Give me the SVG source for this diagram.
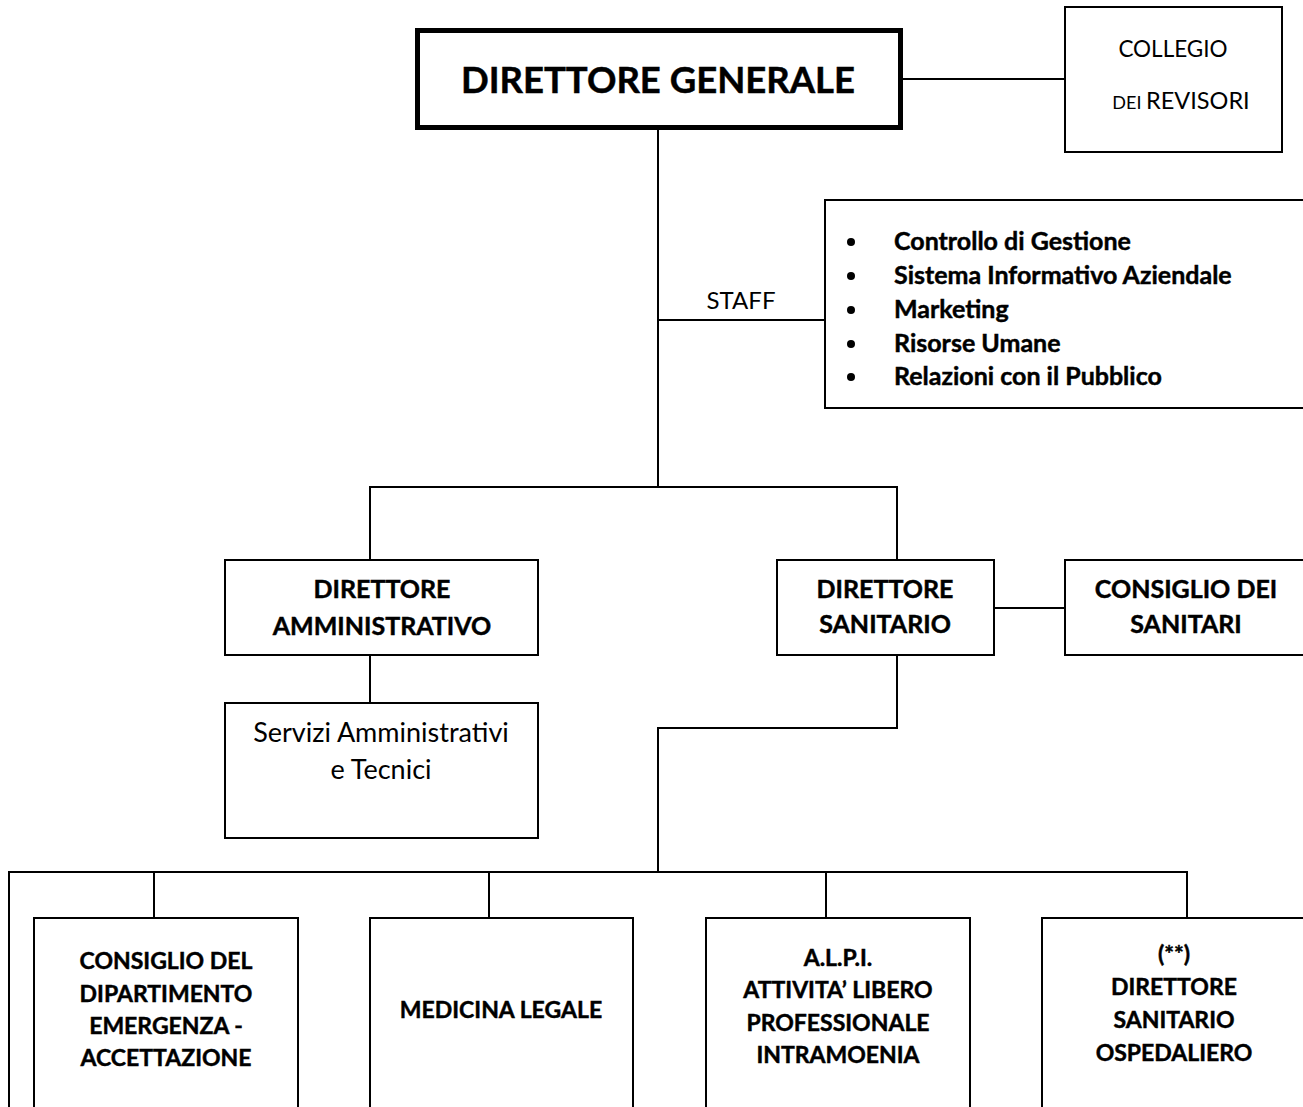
<svg xmlns="http://www.w3.org/2000/svg" width="1303" height="1107" viewBox="0 0 1303 1107">
<style>
text{font-family:Lato,"Open Sans","Liberation Sans",sans-serif;fill:#000;text-anchor:middle}
.b{font-weight:bold;stroke:#000;stroke-width:0.45px}
.box{fill:#fff;stroke:#000;stroke-width:2}
.thick{fill:#fff;stroke:#000;stroke-width:5}
.ln{fill:none;stroke:#000;stroke-width:2}
.s19{font-size:23px}
.s21{font-size:25px}
.st{font-size:25px;text-anchor:start}
</style>
<rect width="1303" height="1107" fill="#fff"/>
<g id="connectors">
<line class="ln" x1="901" y1="79" x2="1065" y2="79"/>
<line class="ln" x1="658" y1="128" x2="658" y2="487"/>
<line class="ln" x1="658" y1="320" x2="825" y2="320"/>
<polyline class="ln" points="370,560 370,487 897,487 897,560"/>
<line class="ln" x1="370" y1="655" x2="370" y2="703"/>
<line class="ln" x1="994" y1="608" x2="1065" y2="608"/>
<polyline class="ln" points="897,655 897,728 658,728 658,872"/>
<polyline class="ln" points="9,1107 9,872 1187,872 1187,918"/>
<line class="ln" x1="154" y1="872" x2="154" y2="918"/>
<line class="ln" x1="489" y1="872" x2="489" y2="918"/>
<line class="ln" x1="826" y1="872" x2="826" y2="918"/>
<text x="741" y="309" style="font-size:24px">STAFF</text>
</g>
<g id="direttore-generale">
<rect class="thick" x="417.5" y="30.5" width="483" height="97"/>
<text class="b" x="658" y="93" style="font-size:36.5px">DIRETTORE GENERALE</text>
</g>
<g id="collegio-revisori">
<rect class="box" x="1065" y="7" width="217" height="145"/>
<text x="1173" y="57" style="font-size:22.5px">COLLEGIO</text>
<text x="1181" y="108.5"><tspan style="font-size:18px">DEI </tspan><tspan style="font-size:23.5px">REVISORI</tspan></text>
</g>
<g id="staff">
<rect class="box" x="825" y="200" width="490" height="208"/>
<g fill="#000">
<circle cx="851" cy="242" r="4"/>
<circle cx="851" cy="276" r="4"/>
<circle cx="851" cy="310" r="4"/>
<circle cx="851" cy="344" r="4"/>
<circle cx="851" cy="377" r="4"/>
</g>
<text class="b st" x="894" y="250">Controllo di Gestione</text>
<text class="b st" x="894" y="284">Sistema Informativo Aziendale</text>
<text class="b st" x="894" y="318">Marketing</text>
<text class="b st" x="894" y="352">Risorse Umane</text>
<text class="b st" x="894" y="385">Relazioni con il Pubblico</text>
</g>
<g id="direttore-amministrativo">
<rect class="box" x="225" y="560" width="313" height="95"/>
<text class="b s21" x="382" y="598">DIRETTORE</text>
<text class="b s21" x="382" y="635">AMMINISTRATIVO</text>
</g>
<g id="servizi">
<rect class="box" x="225" y="703" width="313" height="135"/>
<text x="381" y="742" style="font-size:27px">Servizi Amministrativi</text>
<text x="381" y="779" style="font-size:27px">e Tecnici</text>
</g>
<g id="direttore-sanitario">
<rect class="box" x="777" y="560" width="217" height="95"/>
<text class="b s21" x="885" y="598">DIRETTORE</text>
<text class="b s21" x="885" y="633">SANITARIO</text>
</g>
<g id="consiglio-sanitari">
<rect class="box" x="1065" y="560" width="250" height="95"/>
<text class="b s21" x="1186" y="598">CONSIGLIO DEI</text>
<text class="b s21" x="1186" y="633">SANITARI</text>
</g>
<g id="consiglio-dipartimento">
<rect class="box" x="34" y="918" width="264" height="200"/>
<text class="b s19" x="166" y="969">CONSIGLIO DEL</text>
<text class="b s19" x="166" y="1002">DIPARTIMENTO</text>
<text class="b s19" x="166" y="1034">EMERGENZA -</text>
<text class="b s19" x="166" y="1066">ACCETTAZIONE</text>
</g>
<g id="medicina-legale">
<rect class="box" x="370" y="918" width="263" height="200"/>
<text class="b s19" x="501" y="1018">MEDICINA LEGALE</text>
</g>
<g id="alpi">
<rect class="box" x="706" y="918" width="264" height="200"/>
<text class="b s19" x="838" y="966">A.L.P.I.</text>
<text class="b s19" x="838" y="998">ATTIVITA’ LIBERO</text>
<text class="b s19" x="838" y="1031">PROFESSIONALE</text>
<text class="b s19" x="838" y="1063">INTRAMOENIA</text>
</g>
<g id="direttore-sanitario-ospedaliero">
<rect class="box" x="1042" y="918" width="280" height="200"/>
<text class="b s19" x="1174" y="962">(**)</text>
<text class="b s19" x="1174" y="995">DIRETTORE</text>
<text class="b s19" x="1174" y="1028">SANITARIO</text>
<text class="b s19" x="1174" y="1061">OSPEDALIERO</text>
</g>
</svg>
